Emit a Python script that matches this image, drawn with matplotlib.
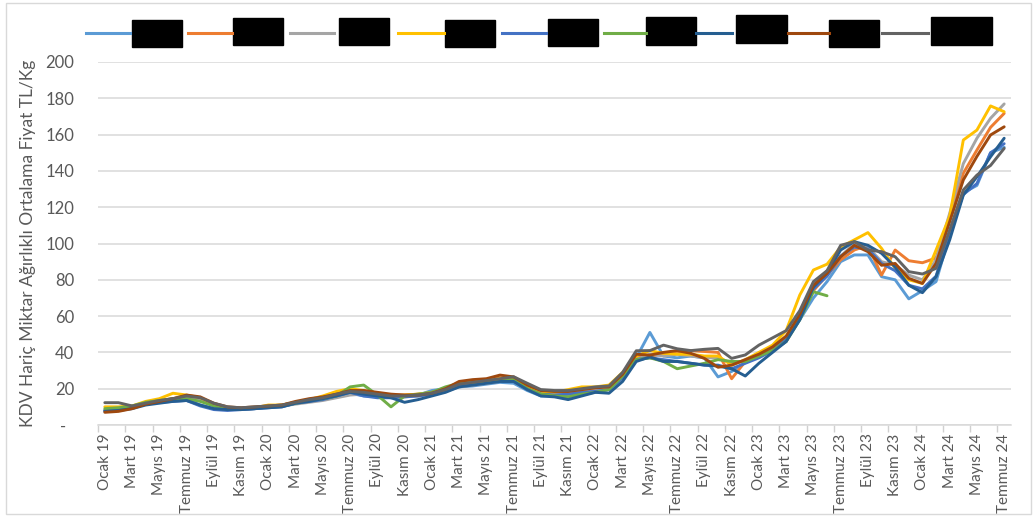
import matplotlib
matplotlib.use('Agg')
import matplotlib.pyplot as plt
import numpy as np
from matplotlib.patches import Rectangle
from matplotlib.lines import Line2D

plt.rcParams['font.family'] = ['Lato', 'DejaVu Sans']

# ---------------- data ----------------
months_tr = ["Ocak", "Şubat", "Mart", "Nisan", "Mayıs", "Haziran",
             "Temmuz", "Ağustos", "Eylül", "Ekim", "Kasım", "Aralık"]
years = ["19", "20", "21", "22", "23", "24"]
categories = [f"{m} {y}" for y in years for m in months_tr][:67]
tick_labels = categories[::2]

y_label = "KDV Hariç Miktar Ağırlıklı Ortalama Fiyat TL/Kg"

s1 = [8, 9, 10, 12, 13, 13.5, 14, 11, 9, 8.5, 8.5, 9,
      10, 10.5, 12, 13, 14, 16, 17.5, 16, 15.5, 15.5, 16, 16.5,
      19, 20, 21, 21.5, 22.5, 23.5, 23, 19, 16, 16, 17, 18.5,
      19, 20, 28, 37, 51, 38, 37, 38, 37, 26.5, 29.5, 34.5,
      39, 42, 47, 58, 70, 79, 90, 93.7, 93.7, 81.7, 80, 69.5,
      74, 79, 105, 128, 132, 150, 153]
s2 = [8, 8.5, 9.5, 12, 13.5, 14.5, 15.5, 14.5, 11.5, 9.5, 9, 9.5,
      10.5, 11, 12.5, 13.5, 15, 17, 19, 18.5, 17, 16.5, 16.5, 17,
      17.5, 19.5, 23, 24, 25, 26, 26, 21.5, 18.5, 18, 18, 19,
      20, 21, 27, 37, 38, 39, 40, 41, 40.5, 40, 25.5, 35,
      38, 43, 48, 60, 74, 82.6, 91, 96.4, 99, 82.6, 96.4, 90.5,
      89.4, 92, 114, 138.7, 151.5, 164, 171.7]
s3 = [8, 9, 10, 12, 13, 14, 15, 13.5, 11, 9, 8.5, 9,
      10, 10.5, 11.5, 12.5, 13.5, 15, 16.5, 17, 16, 15.5, 15.5, 16,
      17, 18.5, 21, 22, 23, 24, 24.5, 20.5, 17.5, 17, 17, 18,
      19, 20, 27, 36, 39, 38, 39, 38, 37, 37, 34, 35,
      38, 41, 46, 60, 77, 85, 93, 100, 98, 90, 88, 82.6,
      80, 91, 116.6, 144, 158, 169, 176.9]
s4 = [10, 10, 10.5, 13, 14.5, 17.5, 16.5, 15, 11.5, 9.5, 9, 9.5,
      11, 11, 12.5, 14, 16, 18.5, 20, 19, 17, 16, 16.5, 17,
      18, 20, 23, 24, 24.5, 25.5, 25.5, 21, 18.5, 18, 19.5, 21,
      21, 22, 29, 38, 41, 39.5, 39, 39, 38, 38, 33, 36,
      40, 44, 52, 71.6, 85.4, 88.6, 98, 102, 106, 97.3, 86.3, 80,
      78, 96.4, 115, 157, 162.5, 175.8, 172.6]
s5 = [8, 8.5, 9.5, 11.5, 12.5, 13, 13.5, 10.5, 8.5, 8, 8.5, 9,
      9.5, 10, 12, 13, 14, 16, 18, 16, 15, 15, 15.5, 16,
      17, 19, 21.5, 22.5, 23.5, 24, 24, 20, 17, 16.5, 17, 18,
      18.5, 19.5, 26, 36, 37, 36, 35, 34, 33, 33, 31, 34,
      37, 41, 47, 60, 75, 82, 93, 98, 97, 89, 85, 77,
      75, 82, 106, 127, 133, 150, 155]
s6 = [9, 9.5, 10.5, 12.5, 13.5, 14.5, 14.5, 13, 10.5, 9, 9, 9.5,
      10, 10.5, 12, 13.5, 14.5, 16, 21, 22, 16.5, 10, 16, 17,
      18, 21, 23, 23.5, 24, 25, 25, 20, 17, 16, 15.5, 17,
      18, 19.5, 27, 36, 37, 35, 31, 32.5, 34, 36, 35, 35,
      38, 41, 46, 58, 73.4, 71.2]
s7 = [7.5, 8, 9, 11, 12, 13, 13.5, 11, 9, 8.5, 8.5, 9,
      9.5, 10, 12, 13, 14.5, 16, 18, 17, 16, 15, 12.5, 14,
      16, 18, 21, 22, 23, 24, 24, 19.5, 16, 15.5, 14, 16,
      18, 17.5, 24, 35, 37.5, 35, 35, 34, 33, 32.5, 31, 27,
      34, 40, 46, 58, 76, 84, 96.4, 101, 99, 94.6, 87, 77,
      72.9, 81.7, 102, 126.7, 136.8, 147.8, 158]
s8 = [7, 7.5, 9, 11.5, 13, 14.5, 16.5, 15.5, 12, 10, 9.5, 10,
      10.5, 11, 13, 14.5, 15.5, 17, 19, 19, 18, 17, 16.5, 16.5,
      17.5, 20, 24, 25, 25.5, 27.5, 26.5, 22, 19, 18.5, 18.5, 19.5,
      20.5, 21, 28, 39, 38.5, 40, 41, 39.5, 36.7, 31.8, 33, 36,
      39, 43, 49, 61, 77, 83.5, 92.7, 99, 95.5, 88, 89, 80.8,
      78, 89, 112, 135, 148, 159.8, 164.3]
s9 = [12.3, 12.3, 10.5, 12, 13.5, 14.5, 16, 15, 12, 10, 9.5, 10,
      10.5, 11, 12.5, 14, 15, 17, 18.5, 18, 17, 16, 16, 16.5,
      17.5, 19.5, 22.5, 23.5, 24.5, 25.5, 26.6, 23, 19.5, 19, 19, 20,
      21, 21.5, 29, 40.9, 41, 44, 42, 41, 41.7, 42.2, 36.7, 38.6,
      44, 48, 52, 63, 79, 85, 99, 101, 96.4, 95.5, 92.7, 84.5,
      83.2, 86.3, 107.4, 129.5, 137.7, 143, 152.4]

series = [s1, s2, s3, s4, s5, s6, s7, s8, s9]
colors = ["#5B9BD5", "#ED7D31", "#A5A5A5", "#FFC000", "#4472C4",
          "#70AD47", "#255E91", "#9E480E", "#636363"]

# ---------------- figure ----------------
W, H = 1036, 519
fig = plt.figure(figsize=(W / 100, H / 100), dpi=100)
fig.patch.set_facecolor('white')

def fx(px):
    return px / W

def fy(py):
    return 1 - py / H

ax = fig.add_axes([fx(98), fy(425), fx(1011) - fx(98), fy(62) - fy(425)])

for vals, col in zip(series, colors):
    ax.plot(np.arange(len(vals)), vals, color=col, lw=2.1,
            solid_joinstyle='round', solid_capstyle='round', zorder=3)

ax.set_xlim(-0.5, len(categories) - 0.5)
ax.set_ylim(0, 200)

yt = np.arange(0, 201, 20)
ax.set_yticks(yt)
ax.set_yticklabels(["-  "] + [str(v) for v in yt[1:]], fontsize=12, color="#595959")
ax.tick_params(axis='y', length=0, pad=17)
ax.yaxis.grid(True, color="#D9D9D9", lw=1.1)
ax.set_axisbelow(True)

# boundary tick marks every 2 categories, labels on even categories
ax.set_xticks(np.arange(-0.5, len(categories) - 1, 2))
ax.set_xticklabels([])
ax.tick_params(axis='x', which='major', length=5, color="#D0D0D0", width=1)
ax.set_xticks(np.arange(0, len(categories), 2), minor=True)
ax.set_xticklabels(tick_labels, minor=True, rotation=90, fontsize=11,
                   color="#595959", va='top', ha='center')
ax.tick_params(axis='x', which='minor', length=0, pad=6)

for s in ['top', 'right', 'left']:
    ax.spines[s].set_visible(False)
ax.spines['bottom'].set_color("#D9D9D9")
ax.spines['bottom'].set_linewidth(1.1)

ax.set_ylabel(y_label, fontsize=12.5, color="#595959", labelpad=7)

# legend (labels are redacted in the reference: black boxes)
leg_lines = [(86, 130), (188, 232), (290, 334), (398, 444), (502, 546),
             (604, 646), (696, 732), (788, 829), (882, 928)]
leg_boxes = [(132, 182, 20, 47), (233, 283, 18, 45), (339, 389, 18, 45),
             (445, 495, 20, 47), (548, 598, 19, 46), (646, 696, 17, 45),
             (736, 787, 15, 43), (829, 879, 20, 47), (931, 992, 17, 45)]
for (x0, x1), (bx0, bx1, by0, by1), col in zip(leg_lines, leg_boxes, colors):
    fig.add_artist(Line2D([fx(x0), fx(x1)], [fy(33), fy(33)], color=col,
                          lw=2.2, transform=fig.transFigure))
    fig.add_artist(Rectangle((fx(bx0), fy(by1)), fx(bx1) - fx(bx0),
                             fy(by0) - fy(by1), facecolor='black',
                             edgecolor='black', transform=fig.transFigure))

# chart border
fig.add_artist(Rectangle((fx(6), fy(514)), fx(1031) - fx(6), fy(3) - fy(514),
                         fill=False, edgecolor="#D9D9D9", lw=1,
                         transform=fig.transFigure))

fig.savefig("out.png", dpi=100)
